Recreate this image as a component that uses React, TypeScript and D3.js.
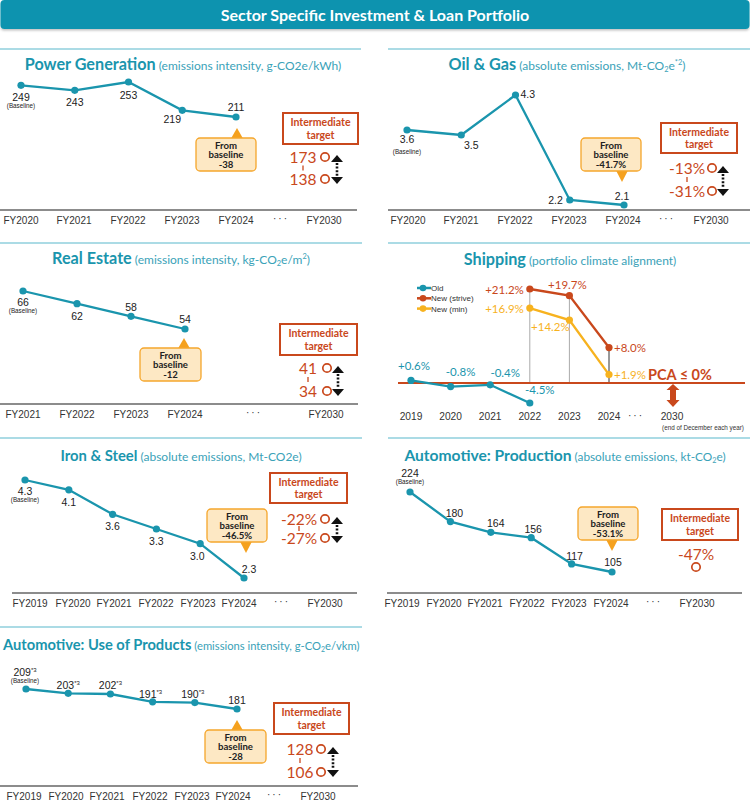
import React from 'react';
import * as d3 from 'd3';

// ---- data ----
const powerYears = ['FY2020', 'FY2021', 'FY2022', 'FY2023', 'FY2024'];
const powerValues = [249, 243, 253, 219, 211];
const powerTargets = ['173', '138'];

const oilYears = ['FY2020', 'FY2021', 'FY2022', 'FY2023', 'FY2024'];
const oilValues = [3.6, 3.5, 4.3, 2.2, 2.1];
const oilTargets = ['-13%', '-31%'];

const realEstateYears = ['FY2021', 'FY2022', 'FY2023', 'FY2024'];
const realEstateValues = [66, 62, 58, 54];
const realEstateTargets = ['41', '34'];

const ironYears = ['FY2019', 'FY2020', 'FY2021', 'FY2022', 'FY2023', 'FY2024'];
const ironValues = [4.3, 4.1, 3.6, 3.3, 3.0, 2.3];
const ironTargets = ['-22%', '-27%'];

const autoProdYears = ['FY2019', 'FY2020', 'FY2021', 'FY2022', 'FY2023', 'FY2024'];
const autoProdValues = [224, 180, 164, 156, 117, 105];
const autoProdTargets = ['-47%'];

const autoUseYears = ['FY2019', 'FY2020', 'FY2021', 'FY2022', 'FY2023', 'FY2024'];
const autoUseValues = [209, 203, 202, 191, 190, 181];
const autoUseNotes = ['*3', '*3', '*3', '*3', '*3', ''];
const autoUseTargets = ['128', '106'];

const shipYears = ['2019', '2020', '2021', '2022', '2023', '2024'];
const shipOld = [0.6, -0.8, -0.4, -4.5];          // 2019-2022
const shipStrive = [21.2, 19.7, 8.0];              // 2022-2024
const shipMin = [16.9, 14.2, 1.9];                 // 2022-2024
const shipLegend = ['Old', 'New (strive)', 'New (min)'];

const TEAL = '#1a95ad';
const RED = '#c9481c';
const GOLD = '#f7b21e';
const SEP = '#8fcfdc';
const INK = '#222';
const NUM_FONT = '"Liberation Sans", Arial, sans-serif';
const FONT = 'Lato, "Open Sans", sans-serif';

type Seg = { t: string; sub?: boolean; sup?: boolean };

const Title = ({ x, y, anchor, bold, rest, bs = 16.2, ss = 12 }:
  { x: number; y: number; anchor: string; bold: string; rest: Seg[]; bs?: number; ss?: number }) => {
  const parts: React.ReactNode[] = [];
  rest.forEach((s, i) => {
    const prev = rest[i - 1];
    // shift back to the baseline after a raised / lowered segment
    const back = prev && prev.sub ? -2 : prev && prev.sup ? 5 : 0;
    const shift = s.sub ? 2 : s.sup ? -5 : 0;
    parts.push(
      <tspan key={i} fontSize={s.sub || s.sup ? ss * 0.62 : ss} dy={back + shift}>{s.t}</tspan>
    );
  });
  return (
    <text x={x} y={y} textAnchor={anchor as any} fontFamily={FONT} fill={TEAL}>
      <tspan fontWeight={700} fontSize={bs}>{bold}</tspan>
      <tspan fontSize={ss} fill="#3aa2b8">{' '}{parts}</tspan>
    </text>
  );
};

type Callout = { x: number; y: number; w: number; h: number; px: number; dir: 'up' | 'down'; text: string };

const CalloutBox = ({ c }: { c: Callout }) => {
  const tri = c.dir === 'up'
    ? `M${c.px - 6},${c.y + 0.5} L${c.px},${c.y - 10} L${c.px + 6},${c.y + 0.5} Z`
    : `M${c.px - 6},${c.y + c.h - 0.5} L${c.px},${c.y + c.h + 11} L${c.px + 6},${c.y + c.h - 0.5} Z`;
  const cx = c.x + c.w / 2;
  const cy = c.y + c.h / 2;
  return (
    <g>
      <path d={tri} fill="#f5a11e" />
      <rect x={c.x} y={c.y} width={c.w} height={c.h} rx={4} fill="#fde8c4" stroke="#f5a62c" strokeWidth={1.3} />
      <g fontFamily={FONT} fontWeight={700} fontSize={9.6} fill={INK} textAnchor="middle">
        <text x={cx} y={cy - 6}>From</text>
        <text x={cx} y={cy + 3.5}>baseline</text>
        <text x={cx} y={cy + 13}>{c.text}</text>
      </g>
    </g>
  );
};

type Target = { x: number; y: number; w: number; h: number; vx: number; cx: number; ax?: number; y1: number; y2?: number };

const TargetBlock = ({ t, values }: { t: Target; values: string[] }) => (
  <g>
    <rect x={t.x} y={t.y} width={t.w} height={t.h} fill="#fff" stroke={RED} strokeWidth={2} />
    <g fontFamily={FONT} fontWeight={700} fontSize={10.5} fill={RED} textAnchor="middle">
      <text x={t.x + t.w / 2} y={t.y + t.h / 2 - 2.5}>Intermediate</text>
      <text x={t.x + t.w / 2} y={t.y + t.h / 2 + 10}>target</text>
    </g>
    {values.length === 2 && t.y2 !== undefined ? (
      <g>
        <text x={t.vx} y={t.y1 + 5.5} textAnchor="middle" fontFamily={FONT} fontSize={15.5} fill={RED}>{values[0]}</text>
        <text x={t.vx} y={t.y2 + 5.5} textAnchor="middle" fontFamily={FONT} fontSize={15.5} fill={RED}>{values[1]}</text>
        <line x1={t.vx} x2={t.vx} y1={(t.y1 + t.y2) / 2 - 2.5} y2={(t.y1 + t.y2) / 2 + 2.5} stroke={RED} strokeWidth={1.3} />
        <circle cx={t.cx} cy={t.y1} r={4.2} fill="#fff" stroke={RED} strokeWidth={1.7} />
        <circle cx={t.cx} cy={t.y2} r={4.2} fill="#fff" stroke={RED} strokeWidth={1.7} />
        {t.ax !== undefined && (
          <g>
            <path d={`M${t.ax - 6},${t.y1 + 5} L${t.ax},${t.y1 - 2} L${t.ax + 6},${t.y1 + 5} Z`} fill="#111" />
            <path d={`M${t.ax - 6},${t.y2 - 2} L${t.ax},${t.y2 + 5} L${t.ax + 6},${t.y2 - 2} Z`} fill="#111" />
            <line x1={t.ax} x2={t.ax} y1={t.y1 + 6} y2={t.y2 - 3} stroke="#111" strokeWidth={2.6} strokeDasharray="2,1.6" />
          </g>
        )}
      </g>
    ) : (
      <g>
        <text x={t.vx} y={t.y1 + 5.5} textAnchor="middle" fontFamily={FONT} fontSize={15.5} fill={RED}>{values[0]}</text>
        <circle cx={t.cx} cy={t.y1 + 13} r={4.2} fill="#fff" stroke={RED} strokeWidth={1.7} />
      </g>
    )}
  </g>
);

type PanelCfg = {
  years: string[];
  values: number[];
  fmt: (v: number) => string;
  notes?: string[];
  x0: number; x1: number;             // pixel x of first / last year
  yPx: [number, number];              // pixel y of min / max value
  axisY: number; axisX: [number, number];
  tickX?: number[];                   // optional label positions for the years
  dotsX: number; endX: number;
  lab: [number, number, string][];    // per point: dx, dy, anchor
  baselineDy: number;
  callout: Callout;
  target: Target;
  targets: string[];
};

const LinePanel = ({ cfg }: { cfg: PanelCfg }) => {
  const x = d3.scaleLinear().domain([0, cfg.years.length - 1]).range([cfg.x0, cfg.x1]);
  const ext = d3.extent(cfg.values) as [number, number];
  const y = d3.scaleLinear().domain(ext).range(cfg.yPx);
  const line = d3.line<number>().x((_, i) => x(i)).y(d => y(d));
  return (
    <g>
      <line x1={cfg.axisX[0]} x2={cfg.axisX[1]} y1={cfg.axisY} y2={cfg.axisY} stroke="#666" strokeWidth={1.3} />
      <g fontFamily={NUM_FONT} fontSize={10} fontWeight={400} fill="#333" textAnchor="middle">
        {cfg.years.map((yr, i) => (
          <text key={yr} x={cfg.tickX ? cfg.tickX[i] : x(i)} y={cfg.axisY + 13.5}>{yr}</text>
        ))}
        <text x={cfg.dotsX} y={cfg.axisY + 12} letterSpacing={2}>···</text>
        <text x={cfg.endX} y={cfg.axisY + 13.5}>FY2030</text>
      </g>
      <path d={line(cfg.values) || ''} fill="none" stroke={TEAL} strokeWidth={2.3} />
      {cfg.values.map((v, i) => (
        <circle key={i} cx={x(i)} cy={y(v)} r={3.6} fill={TEAL} />
      ))}
      <g fontFamily={NUM_FONT} fontSize={10.5} fill={INK}>
        {cfg.values.map((v, i) => {
          const [dx, dy, anchor] = cfg.lab[i];
          return (
            <text key={i} x={x(i) + dx} y={y(v) + dy} textAnchor={anchor as any}>
              {cfg.fmt(v)}
              {cfg.notes && cfg.notes[i] ? <tspan fontSize={6} dy={-4}>{cfg.notes[i]}</tspan> : null}
            </text>
          );
        })}
        <text x={x(0) + cfg.lab[0][0]} y={y(cfg.values[0]) + cfg.baselineDy} fontSize={6.3} textAnchor="middle">(Baseline)</text>
      </g>
      <CalloutBox c={cfg.callout} />
      <TargetBlock t={cfg.target} values={cfg.targets} />
    </g>
  );
};

const f0 = (v: number) => String(v);
const f1 = (v: number) => v.toFixed(1);

const panels: PanelCfg[] = [
  {
    years: powerYears, values: powerValues, fmt: f0,
    x0: 21, x1: 236, yPx: [117, 82], axisY: 210, axisX: [0, 357],
    tickX: [21, 74, 128, 182, 236], dotsX: 281, endX: 324,
    lab: [[0, 16, 'middle'], [0, 16, 'middle'], [0, 17, 'middle'], [-10, 13, 'middle'], [0, -6, 'middle']],
    baselineDy: 23,
    callout: { x: 196, y: 138, w: 60, h: 33, px: 237, dir: 'up', text: '-38' },
    target: { x: 283, y: 113, w: 75, h: 31, vx: 303, cx: 325, ax: 337, y1: 157, y2: 179 },
    targets: powerTargets,
  },
  {
    years: oilYears, values: oilValues, fmt: f1,
    x0: 407, x1: 624, yPx: [205, 95], axisY: 210, axisX: [388, 750],
    tickX: [408, 461, 515, 569, 623], dotsX: 667, endX: 711,
    lab: [[0, 13, 'middle'], [10, 14, 'middle'], [5, 3, 'start'], [-7, 4, 'end'], [-2, -5, 'middle']],
    baselineDy: 24,
    callout: { x: 581, y: 138, w: 60, h: 33, px: 622, dir: 'down', text: '-41.7%' },
    target: { x: 661, y: 123, w: 76, h: 30, vx: 687, cx: 712, ax: 723, y1: 168, y2: 191 },
    targets: oilTargets,
  },
  {
    years: realEstateYears, values: realEstateValues, fmt: f0,
    x0: 23, x1: 185, yPx: [329, 291], axisY: 404, axisX: [0, 358],
    dotsX: 254, endX: 326,
    lab: [[0, 15, 'middle'], [0, 16, 'middle'], [0, -5, 'middle'], [0, -6, 'middle']],
    baselineDy: 22,
    callout: { x: 140, y: 348, w: 61, h: 33, px: 184, dir: 'up', text: '-12' },
    target: { x: 280, y: 324, w: 77, h: 31, vx: 308, cx: 327, ax: 338, y1: 368, y2: 391 },
    targets: realEstateTargets,
  },
  {
    years: ironYears, values: ironValues, fmt: f1,
    x0: 25, x1: 244, yPx: [578, 480], axisY: 593, axisX: [12, 357],
    tickX: [30, 73, 114, 156, 198, 239], dotsX: 282, endX: 325,
    lab: [[0, 15, 'middle'], [0, 16, 'middle'], [0, 16, 'middle'], [0, 16, 'middle'], [-3, 16, 'middle'], [5, -5, 'middle']],
    baselineDy: 22,
    callout: { x: 207, y: 509, w: 60, h: 33, px: 246, dir: 'down', text: '-46.5%' },
    target: { x: 270, y: 473, w: 77, h: 30, vx: 299, cx: 325, ax: 337, y1: 519, y2: 538 },
    targets: ironTargets,
  },
  {
    years: autoProdYears, values: autoProdValues, fmt: f0,
    x0: 410, x1: 612, yPx: [572, 492], axisY: 593, axisX: [387, 742],
    tickX: [402, 444, 485, 527, 569, 611], dotsX: 654, endX: 697,
    lab: [[0, -15, 'middle'], [4, -5, 'middle'], [5, -5, 'middle'], [2, -5, 'middle'], [3, -4, 'middle'], [1, -6, 'middle']],
    baselineDy: -8,
    callout: { x: 578, y: 507, w: 60, h: 33, px: 612, dir: 'down', text: '-53.1%' },
    target: { x: 662, y: 509, w: 76, h: 31, vx: 696, cx: 696, y1: 554 },
    targets: autoProdTargets,
  },
  {
    years: autoUseYears, values: autoUseValues, fmt: f0, notes: autoUseNotes,
    x0: 26, x1: 237, yPx: [709, 689], axisY: 786, axisX: [0, 358],
    tickX: [24, 66, 107, 150, 192, 233], dotsX: 275, endX: 318,
    lab: [[-1, -13, 'middle'], [0, -4, 'middle'], [0, -5, 'middle'], [-2, -4, 'middle'], [-2, -5, 'middle'], [0, -5, 'middle']],
    baselineDy: -6,
    callout: { x: 205, y: 730, w: 61, h: 33, px: 237, dir: 'up', text: '-28' },
    target: { x: 274, y: 703, w: 75, h: 31, vx: 300, cx: 321, ax: 333, y1: 749, y2: 772 },
    targets: autoUseTargets,
  },
];

const ShippingPanel = () => {
  const x = d3.scalePoint<string>().domain(shipYears).range([411, 609]);
  const y = d3.scaleLinear().domain([-4.5, 21.2]).range([403, 289]);
  const line = d3.line<[string, number]>().x(d => x(d[0]) as number).y(d => y(d[1]));
  const oldPts = shipOld.map((v, i) => [shipYears[i], v] as [string, number]);
  const strivePts = shipStrive.map((v, i) => [shipYears[i + 3], v] as [string, number]);
  const minPts = shipMin.map((v, i) => [shipYears[i + 3], v] as [string, number]);
  const pct = (v: number) => (v > 0 ? '+' : '') + v.toFixed(1) + '%';
  const zero = y(0);
  const oldLab: [number, number][] = [[3, -10], [10, -11], [15, -8], [10, -9]];
  const striveLab: [number, number, string][] = [[-6, 5, 'end'], [-2, -7, 'middle'], [5, 4, 'start']];
  const minLab: [number, number, string][] = [[-6, 5, 'end'], [-19, 11, 'middle'], [5, 4, 'start']];
  const legendColors = [TEAL, RED, GOLD];
  return (
    <g>
      {strivePts.map((d, i) => (
        <line key={i} x1={x(d[0])} x2={x(d[0])} y1={y(d[1])} y2={zero}
          stroke={i === 2 ? '#333' : '#aaa'} strokeWidth={1} />
      ))}
      <line x1={398} x2={745} y1={zero} y2={zero} stroke={RED} strokeWidth={2} />
      <path d={line(oldPts) || ''} fill="none" stroke={TEAL} strokeWidth={2.3} />
      <path d={line(strivePts) || ''} fill="none" stroke={RED} strokeWidth={2.3} />
      <path d={line(minPts) || ''} fill="none" stroke={GOLD} strokeWidth={2.3} />
      {oldPts.map((d, i) => <circle key={'o' + i} cx={x(d[0])} cy={y(d[1])} r={3.6} fill={TEAL} />)}
      {strivePts.map((d, i) => <circle key={'s' + i} cx={x(d[0])} cy={y(d[1])} r={3.6} fill={RED} />)}
      {minPts.map((d, i) => <circle key={'m' + i} cx={x(d[0])} cy={y(d[1])} r={3.6} fill={GOLD} />)}
      <g fontFamily={FONT} fontSize={11.5}>
        {oldPts.map((d, i) => (
          <text key={'ol' + i} x={(x(d[0]) as number) + oldLab[i][0]} y={y(d[1]) + oldLab[i][1]}
            textAnchor="middle" fill={TEAL}>{pct(d[1])}</text>
        ))}
        {strivePts.map((d, i) => (
          <text key={'sl' + i} x={(x(d[0]) as number) + striveLab[i][0]} y={y(d[1]) + striveLab[i][1]}
            textAnchor={striveLab[i][2] as any} fill={RED}>{pct(d[1])}</text>
        ))}
        {minPts.map((d, i) => (
          <text key={'ml' + i} x={(x(d[0]) as number) + minLab[i][0]} y={y(d[1]) + minLab[i][1]}
            textAnchor={minLab[i][2] as any} fill={GOLD}>{pct(d[1])}</text>
        ))}
      </g>
      <text x={648} y={380} fontFamily={FONT} fontWeight={700} fontSize={14.5} fill={RED}>PCA ≤ 0%</text>
      {/* double arrow under the 2030 marker */}
      <path d={`M673,${zero + 1} L679.5,${zero + 7} L676,${zero + 7} L676,${zero + 17} L679.5,${zero + 17} L673,${zero + 24} L666.5,${zero + 17} L670,${zero + 17} L670,${zero + 7} L666.5,${zero + 7} Z`} fill={RED} />
      <g fontFamily={NUM_FONT} fontSize={10.2} fill="#333" textAnchor="middle">
        {shipYears.map(yr => <text key={yr} x={x(yr)} y={420}>{yr}</text>)}
        <text x={636} y={419} letterSpacing={2}>···</text>
        <text x={672} y={420}>2030</text>
        <text x={703} y={430} fontSize={6.3}>(end of December each year)</text>
      </g>
      <g fontFamily={NUM_FONT} fontSize={8} fill="#333">
        {shipLegend.map((name, i) => (
          <g key={name} transform={`translate(0,${288 + i * 10.3})`}>
            <line x1={417} x2={431} y1={0} y2={0} stroke={legendColors[i]} strokeWidth={2.5} />
            <circle cx={423} cy={0} r={3.3} fill={legendColors[i]} />
            <text x={431} y={3}>{name}</text>
          </g>
        ))}
      </g>
    </g>
  );
};

export default function App() {
  return (
    <div style={{ position: 'absolute', left: 0, top: 0, width: 750, height: 808, background: '#fff' }}>
      <svg width={750} height={808} viewBox="0 0 750 808">
        <defs>
          <filter id="barShadow" x="-5%" y="-20%" width="110%" height="160%">
            <feDropShadow dx={0} dy={1.5} stdDeviation={1} floodColor="#000" floodOpacity={0.25} />
          </filter>
        </defs>
        <rect x={0.5} y={0} width={749} height={29} rx={4} fill="#0a93af" filter="url(#barShadow)" />
        <text x={375} y={20.5} textAnchor="middle" fontFamily={FONT} fontWeight={700} fontSize={16} fill="#fff">
          Sector Specific Investment &amp; Loan Portfolio
        </text>

        {/* section separators */}
        <g stroke={SEP} strokeWidth={1.5}>
          <line x1={0} x2={361} y1={49} y2={49} />
          <line x1={388} x2={750} y1={49} y2={49} />
          <line x1={0} x2={362} y1={243} y2={243} />
          <line x1={388} x2={750} y1={243} y2={243} />
          <line x1={0} x2={362} y1={438} y2={438} />
          <line x1={388} x2={750} y1={438} y2={438} />
          <line x1={0} x2={362} y1={627} y2={627} />
        </g>

        <Title x={183} y={70} anchor="middle" bold="Power Generation" rest={[{ t: '(emissions intensity, g-CO2e/kWh)' }]} />
        <Title x={567} y={70} anchor="middle" bold="Oil & Gas"
          rest={[{ t: '(absolute emissions, Mt-CO' }, { t: '2', sub: true }, { t: 'e' }, { t: '*2', sup: true }, { t: ')' }]} />
        <Title x={181} y={264} anchor="middle" bold="Real Estate"
          rest={[{ t: '(emissions intensity, kg-CO' }, { t: '2', sub: true }, { t: 'e/m' }, { t: '2', sup: true }, { t: ')' }]} />
        <Title x={570} y={265} anchor="middle" bold="Shipping" rest={[{ t: '(portfolio climate alignment)' }]} />
        <Title x={181} y={461} anchor="middle" bold="Iron & Steel" bs={14.8}
          rest={[{ t: '(absolute emissions, Mt-CO2e)' }]} />
        <Title x={565} y={461} anchor="middle" bold="Automotive: Production" bs={15.6} ss={11.8}
          rest={[{ t: '(absolute emissions, kt-CO' }, { t: '2', sub: true }, { t: 'e)' }]} />
        <Title x={3} y={650} anchor="start" bold="Automotive: Use of Products" bs={14.7} ss={11.2}
          rest={[{ t: '(emissions intensity, g-CO' }, { t: '2', sub: true }, { t: 'e/vkm)' }]} />

        {panels.map((p, i) => <LinePanel key={i} cfg={p} />)}
        <ShippingPanel />
      </svg>
    </div>
  );
}
